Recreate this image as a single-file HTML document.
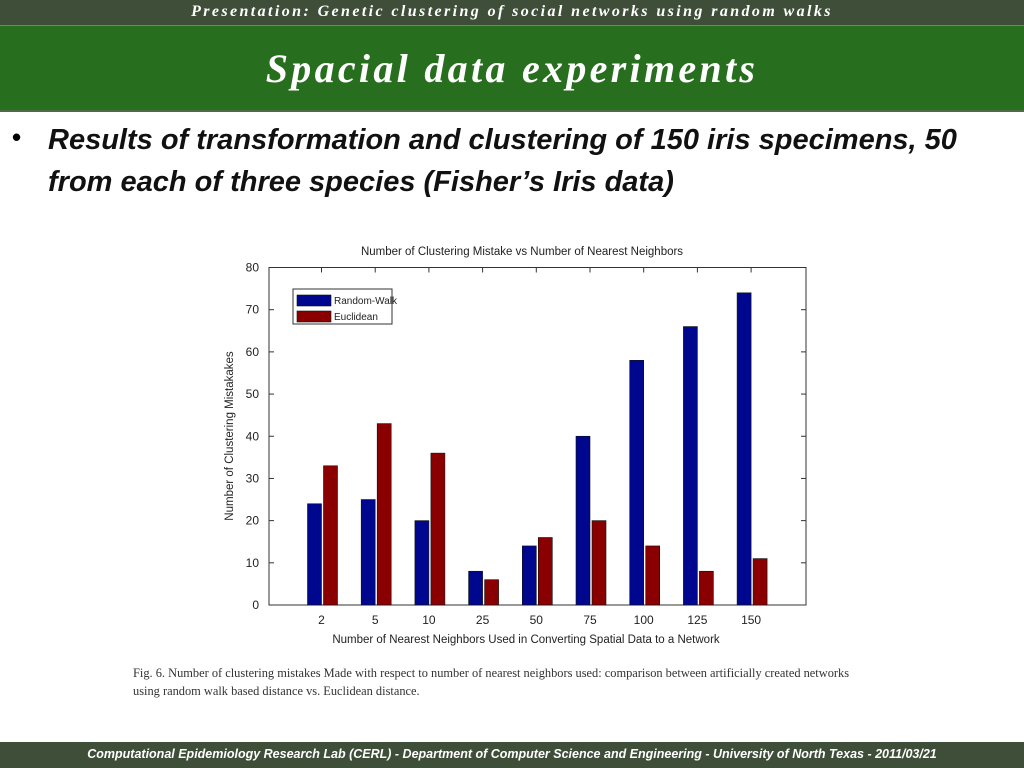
<!DOCTYPE html>
<html><head><meta charset="utf-8"><style>
body{margin:0;width:1024px;height:768px;position:relative;background:#fff;overflow:hidden;font-family:"Liberation Sans",sans-serif}
.abs{position:absolute}
</style></head><body>
<div class="abs" style="left:0;top:0;width:1024px;height:25px;background:#3f4e39;border-bottom:1px solid #6a8a60"></div>
<div class="abs" style="left:0;top:3px;width:1024px;text-align:center;color:#fff;font:italic bold 16px 'Liberation Serif',serif;letter-spacing:2.4px">Presentation: Genetic clustering of social networks using random walks</div>
<div class="abs" style="left:0;top:26px;width:1024px;height:84px;background:#276e1e;border-bottom:2px solid #4f6a49"></div>
<div class="abs" style="left:0;top:45px;width:1024px;text-align:center;color:#fff;font:italic bold 40px 'Liberation Serif',serif;letter-spacing:3.3px">Spacial data experiments</div>
<div class="abs" style="left:12px;top:122px;font:bold 26px 'Liberation Sans',sans-serif">•</div>
<div class="abs" style="left:48px;top:119px;width:945px;font:italic bold 29px/42px 'Liberation Sans',sans-serif;color:#111">Results of transformation and clustering of 150 iris specimens, 50 from each of three species (Fisher’s Iris data)</div>

<svg class="abs" style="left:0;top:0" width="1024" height="768" id="chart">
<text x="522" y="255" text-anchor="middle" font-size="11.5" fill="#222">Number of Clustering Mistake vs Number of Nearest Neighbors</text>
<text x="526" y="643" text-anchor="middle" font-size="11.5" fill="#222">Number of Nearest Neighbors Used in Converting Spatial Data to a Network</text>
<text transform="translate(233,436) rotate(-90)" text-anchor="middle" font-size="11.5" fill="#222">Number of Clustering Mistakakes</text>
</svg>

<div class="abs" style="left:133px;top:664px;width:800px;white-space:nowrap;font:12.4px/18px 'Liberation Serif',serif;color:#333">Fig. 6. Number of clustering mistakes Made with respect to number of nearest neighbors used: comparison between artificially created networks<br>using random walk based distance vs. Euclidean distance.</div>

<div class="abs" style="left:0;top:742px;width:1024px;height:26px;background:#3f4e39"></div>
<div class="abs" style="left:0;top:747px;width:1024px;text-align:center;color:#fff;font:italic bold 12.5px 'Liberation Sans',sans-serif">Computational Epidemiology Research Lab (CERL) - Department of Computer Science and Engineering - University of North Texas  - 2011/03/21</div>

<script>
const categories=["2","5","10","25","50","75","100","125","150"];
const randomWalk=[24,25,20,8,14,40,58,66,74];
const euclidean=[33,43,36,6,16,20,14,8,11];
const yTicks=[0,10,20,30,40,50,60,70,80];
const NS="http://www.w3.org/2000/svg";
const svg=document.getElementById('chart');
const L=269,R=806,T=267.5,B=605,yMax=80;
const y=v=>B-(v/yMax)*(B-T);
const step=53.7,first=322.5;
const x=i=>first+i*step;
function mk(tag,a){const e=document.createElementNS(NS,tag);for(const k in a)e.setAttribute(k,a[k]);svg.appendChild(e);return e;}
const frame=mk('rect',{x:L,y:T,width:R-L,height:B-T,fill:'none',stroke:'#333','stroke-width':1});


yTicks.forEach(t=>{
  const l=mk('line',{x1:L,x2:L+5,y1:y(t),y2:y(t),stroke:'#333'});
  
  
  const l2=mk('line',{x1:R-5,x2:R,y1:y(t),y2:y(t),stroke:'#333'});
  
  
  const tx=mk('text',{x:L-10,y:y(t)+4,'text-anchor':'end','font-size':12,fill:'#222'});
  tx.textContent=t;
  
  
});
categories.forEach((c,i)=>{
  const cx=x(i);
  const tk=mk('line',{x1:cx-1,x2:cx-1,y1:T,y2:T+5,stroke:'#333'});
  
  
  const b1=mk('rect',{x:cx-15,y:y(randomWalk[i]),width:14,height:B-y(randomWalk[i]),fill:'#00078f',stroke:'#111','stroke-width':0.6});
  
  
  const b2=mk('rect',{x:cx+1,y:y(euclidean[i]),width:14,height:B-y(euclidean[i]),fill:'#8a0000',stroke:'#111','stroke-width':0.6});
  
  
  const tx=mk('text',{x:cx-1,y:624,'text-anchor':'middle','font-size':12,fill:'#222'});
  tx.textContent=c;
  
  
});
const lg=mk('rect',{x:293,y:289,width:99,height:35,fill:'#fff',stroke:'#333'});


[['Random-Walk','#00078f',293],['Euclidean','#8a0000',309]].forEach(([n,col,yy])=>{
  const s=mk('rect',{x:297,y:yy+2,width:34,height:11,fill:col,stroke:'#111','stroke-width':0.6});
  
  
  const t=mk('text',{x:334,y:yy+11,'font-size':10,fill:'#222'});
  t.textContent=n;
  
  
});
</script>
</body></html>
